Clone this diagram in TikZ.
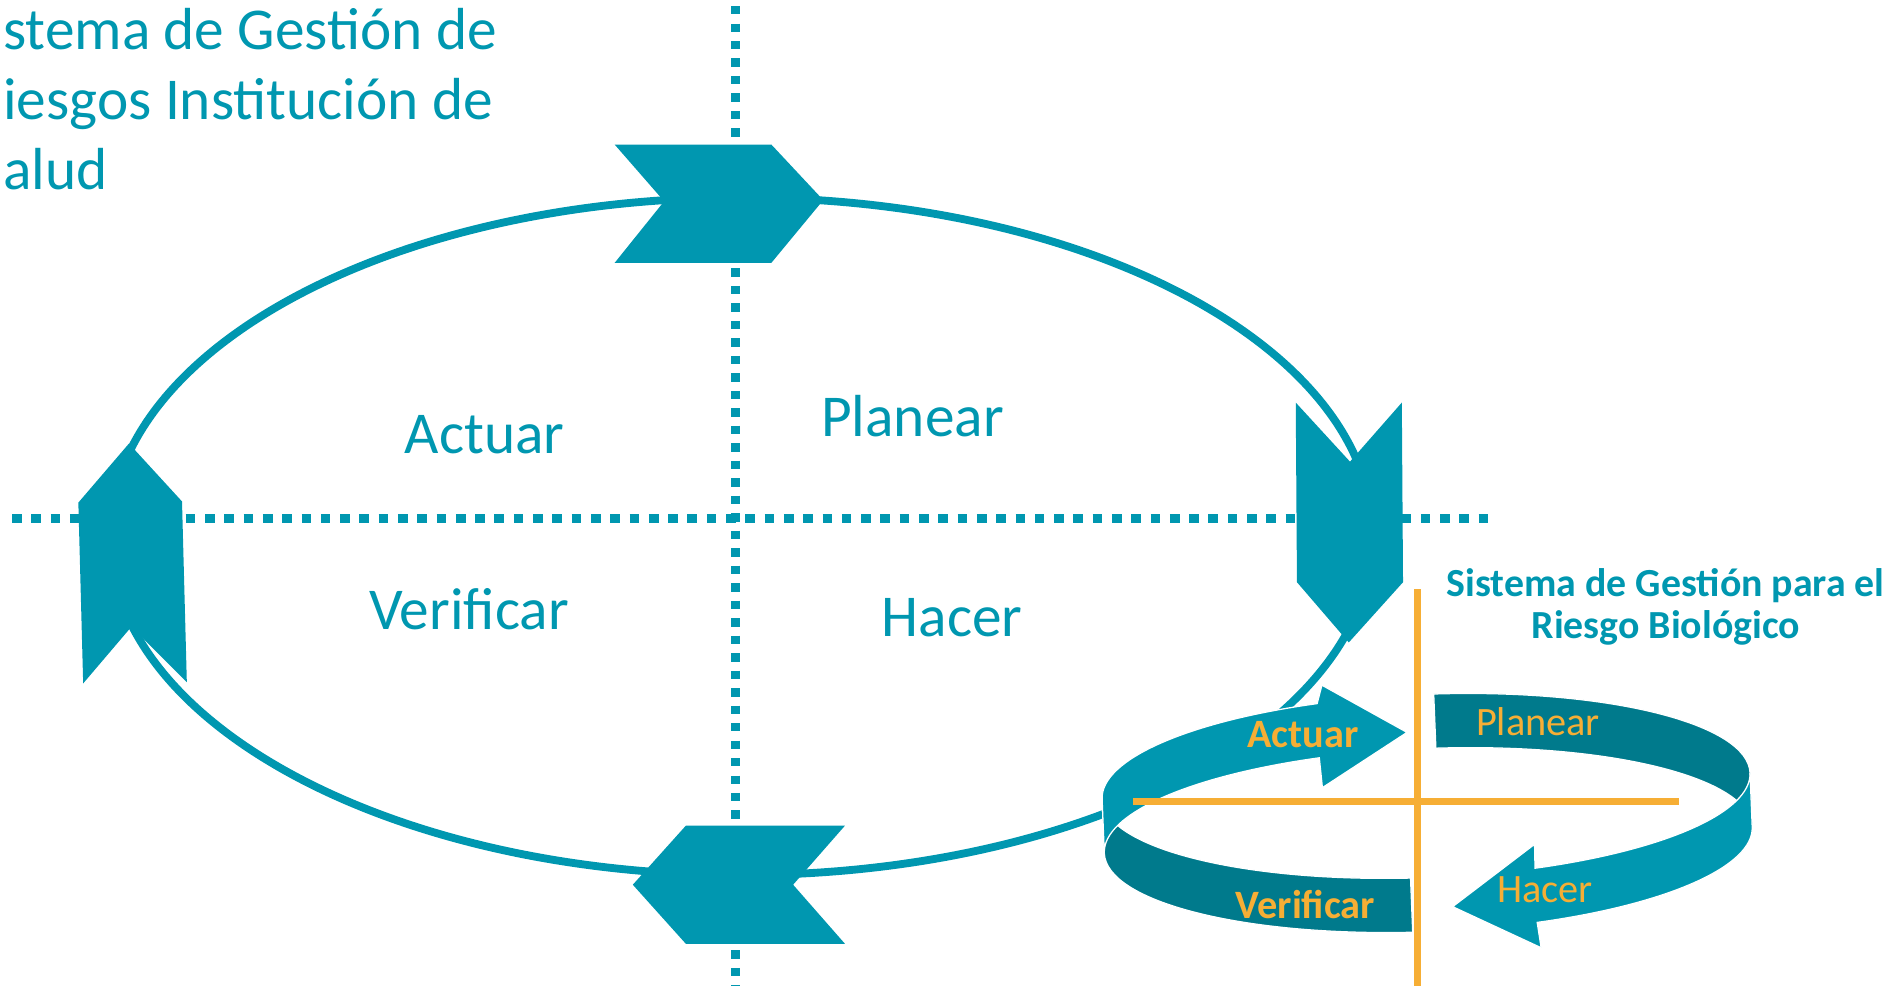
\documentclass[tikz,border=0pt]{standalone}
\usepackage{fontspec}
\setmainfont{Carlito}
\usetikzlibrary{positioning}

\definecolor{cyclecolor}{RGB}{0,151,176}
\definecolor{ringdark}{RGB}{0,122,140}
\definecolor{ringgold}{RGB}{246,174,53}

\begin{document}
\begin{tikzpicture}[
		x=0.01cm, y=-0.01cm,
		chevron/.style={fill=cyclecolor},
		dotted axis/.style={draw=cyclecolor, line width=0.075cm, dash pattern=on 0.08cm off 0.08cm},
		cycle line/.style={draw=cyclecolor, line width=0.065cm},
		band light/.style={fill=cyclecolor, draw=white, line width=0.3pt},
		band dark/.style={fill=ringdark, draw=white, line width=0.3pt},
		ring axis/.style={draw=ringgold, line width=0.06cm},
		phase/.style={text=cyclecolor, font=\fontsize{14}{16}\selectfont, anchor=base, inner sep=0pt},
		ring phase/.style={text=ringgold, font=\fontsize{9.5}{10}\selectfont, anchor=base, inner sep=0pt},
		ring phase bold/.style={ring phase, font=\fontsize{9.5}{10}\selectfont\bfseries},
		ring title/.style={text=cyclecolor, font=\fontsize{9.4}{10}\selectfont\bfseries, anchor=base, inner sep=0pt}
	]

	\useasboundingbox (0,0) rectangle (1568,818);
	\clip (0,0) rectangle (1568,818);

	% quadrant axes
	\draw [dotted axis] (10,430) -- (1236,430);
	\draw [dotted axis, dash pattern=on 0.07cm off 0.075cm] (610,5) -- (610,818);

	% big cycle
	\draw [cycle line] (615,445) ellipse [x radius=524, y radius=281];

	\fill [chevron] (510,120) -- (640,120) -- (683,166) -- (640,218) -- (510,218) -- (551,167) -- cycle;
	\fill [chevron] (1075,334) -- (1120,383) -- (1163,334) -- (1164,483) -- (1119,533) -- (1076,483) -- cycle;
	\fill [chevron] (569,685) -- (701,685) -- (658,734) -- (701,783) -- (569,783) -- (525,734) -- cycle;
	\fill [chevron] (107,368) -- (151,416) -- (155,566) -- (109,520) -- (69,567) -- (65,417) -- cycle;

	\node [phase] (actuar) at (402,376) {Actuar};
	\node [phase] (planear) at (757,362) {Planear};
	\node [phase] (verificar) at (389,522) {Verificar};
	\node [phase] (hacer) at (790,528) {Hacer};

	\foreach \l [count=\i] in {stema de Gestión de, iesgos Institución de, alud}
		\node [phase, anchor=base west] (title-\i) at (2, 58*\i - 17) {\l};

	% small ring
	\begin{scope}[shift={(1184,674)}, rotate=2.3]
		\path [band dark] ([shift={(0,-22)}]93.4:269 and 76)
			arc [start angle=93.4, end angle=180, x radius=269, y radius=76] -- ++(0,45)
			arc [start angle=180, end angle=93.4, x radius=269, y radius=76] -- cycle;
		\path [band dark] ([shift={(0,-22)}]272:269 and 76)
			arc [start angle=272, end angle=360, x radius=269, y radius=76] -- ++(0,45)
			arc [start angle=360, end angle=272, x radius=269, y radius=76] -- cycle;
		\path [band light] ([shift={(0,-22)}]251:269 and 76)
			arc [start angle=251, end angle=180, x radius=269, y radius=76] -- ++(0,45)
			arc [start angle=180, end angle=251, x radius=269, y radius=76]
			-- (-86,-24) -- (-14,-67) -- (-83,-109) -- cycle;
		\path [band light] ([shift={(0,-22)}]0:269 and 76)
			arc [start angle=0, end angle=71, x radius=269, y radius=76]
			-- (88,30) -- (18,79) -- (90,116)
			-- ([shift={(0,23)}]71:269 and 76)
			arc [start angle=71, end angle=0, x radius=269, y radius=76] -- cycle;
	\end{scope}

	\draw [ring axis] (1176,489) -- (1176,818);
	\draw [ring axis] (940,665) -- (1393,665);

	\node [ring phase bold] (ring-actuar) at (1081,620) {Actuar};
	\node [ring phase] (ring-planear) at (1276,610) {Planear};
	\node [ring phase] (ring-hacer) at (1282,749) {Hacer};
	\node [ring phase bold] (ring-verificar) at (1083,762) {Verificar};

	\foreach \l [count=\i] in {Sistema de Gestión para el, Riesgo Biológico}
		\node [ring title] (bio-\i) at (1382, 460 + 35*\i) {\l};
\end{tikzpicture}
\end{document}
